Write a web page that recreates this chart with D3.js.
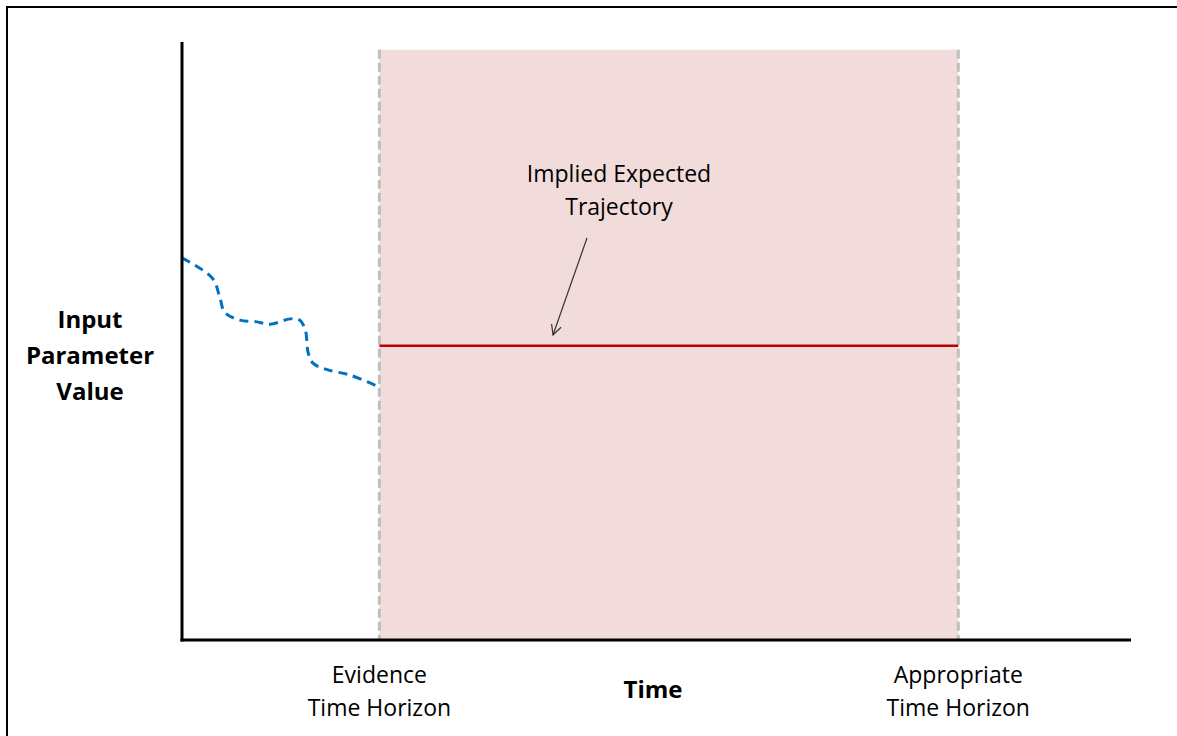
<!DOCTYPE html>
<html><head><meta charset="utf-8">
<script src="https://cdn.jsdelivr.net/npm/d3@7"></script>
<style>html,body{margin:0;padding:0;background:#fff;}svg{display:block;}</style>
</head><body>
<svg id="c" width="1177" height="736"></svg>
<script>
// ---- data ----
const observedTime  = [0, 3.2, 4.0, 4.5, 6.1, 7.9, 9.3, 11.4, 12.4, 13.0, 13.3, 13.8, 15.3, 17.7, 20.5];
const observedValue = [63.9, 60.5, 57.2, 54.8, 53.5, 53.2, 52.8, 53.7, 53.5, 51.8, 48.0, 46.3, 45.2, 44.3, 42.5];
const horizonNames = ["Evidence Time Horizon", "Appropriate Time Horizon"];
const horizonTimes = [20.8, 81.8];
const impliedValue = [49.2];
const shadeTop = [98.7];
const labelLines = {
  y: ["Input", "Parameter", "Value"],
  x: ["Time"],
  evidence: ["Evidence", "Time Horizon"],
  appropriate: ["Appropriate", "Time Horizon"],
  annotation: ["Implied Expected", "Trajectory"]
};

const svg = d3.select("#c");
const x = d3.scaleLinear().domain([0, 100]).range([182, 1131]);
const y = d3.scaleLinear().domain([0, 100]).range([640, 42]);
const font = "'Open Sans', Lato, sans-serif";

// outer frame (top/left visible)
svg.append("rect").attr("x", 7).attr("y", 7).attr("width", 1200).attr("height", 800)
  .attr("fill", "none").attr("stroke", "#000").attr("stroke-width", 2);

// shaded region
svg.append("rect")
  .attr("x", x(horizonTimes[0])).attr("y", y(shadeTop[0]))
  .attr("width", x(horizonTimes[1]) - x(horizonTimes[0]))
  .attr("height", y(0) - y(shadeTop[0]))
  .attr("fill", "#f2dcdb");

// dashed horizon lines
svg.selectAll("line.h").data(horizonTimes).enter().append("line")
  .attr("x1", d => x(d)).attr("x2", d => x(d))
  .attr("y1", y(shadeTop[0])).attr("y2", y(0))
  .attr("stroke", "#bfbfbf").attr("stroke-width", 3).attr("stroke-dasharray", "9,4");

// implied trajectory
svg.append("line")
  .attr("x1", x(horizonTimes[0])).attr("x2", x(horizonTimes[1]))
  .attr("y1", y(impliedValue[0])).attr("y2", y(impliedValue[0]))
  .attr("stroke", "#c00000").attr("stroke-width", 2.5);

// observed dashed line
const pts = observedTime.map((t, i) => [t, observedValue[i]]);
svg.append("path")
  .attr("d", d3.line().x(d => x(d[0])).y(d => y(d[1])).curve(d3.curveCatmullRom)(pts))
  .attr("fill", "none").attr("stroke", "#0070c0").attr("stroke-width", 3)
  .attr("stroke-dasharray", "9,6");

// axes
svg.append("line").attr("x1", x(0)).attr("x2", x(0)).attr("y1", y(100)).attr("y2", y(0) + 1.5)
  .attr("stroke", "#000").attr("stroke-width", 3);
svg.append("line").attr("x1", x(0) - 1.5).attr("x2", x(100)).attr("y1", y(0)).attr("y2", y(0))
  .attr("stroke", "#000").attr("stroke-width", 3);

// arrow annotation
const defs = svg.append("defs");
defs.append("marker").attr("id", "ah").attr("viewBox", "0 0 12 12").attr("refX", 11).attr("refY", 6)
  .attr("markerWidth", 12).attr("markerHeight", 12).attr("markerUnits", "userSpaceOnUse").attr("orient", "auto")
  .append("path").attr("d", "M1,1 L11,6 L1,11").attr("fill", "none").attr("stroke", "#333").attr("stroke-width", 1.2);
svg.append("line").attr("x1", 587).attr("y1", 238).attr("x2", 553).attr("y2", 335)
  .attr("stroke", "#333").attr("stroke-width", 1.2).attr("marker-end", "url(#ah)");

function block(lines, cx, cy0, lh, size, weight) {
  const t = svg.append("text").attr("text-anchor", "middle").attr("font-family", font)
    .attr("font-size", size).attr("font-weight", weight).attr("fill", "#000");
  lines.forEach((l, i) => t.append("tspan").attr("x", cx).attr("y", cy0 + i * lh).text(l));
}
block(labelLines.annotation, 619, 182, 33, 23, "normal");
block(labelLines.y, 90, 328, 36, 24, "bold");
block(labelLines.x, 653, 698, 0, 24, "bold");
block(labelLines.evidence, x(horizonTimes[0]), 683, 33, 23, "normal");
block(labelLines.appropriate, x(horizonTimes[1]), 683, 33, 23, "normal");
</script>
</body></html>
